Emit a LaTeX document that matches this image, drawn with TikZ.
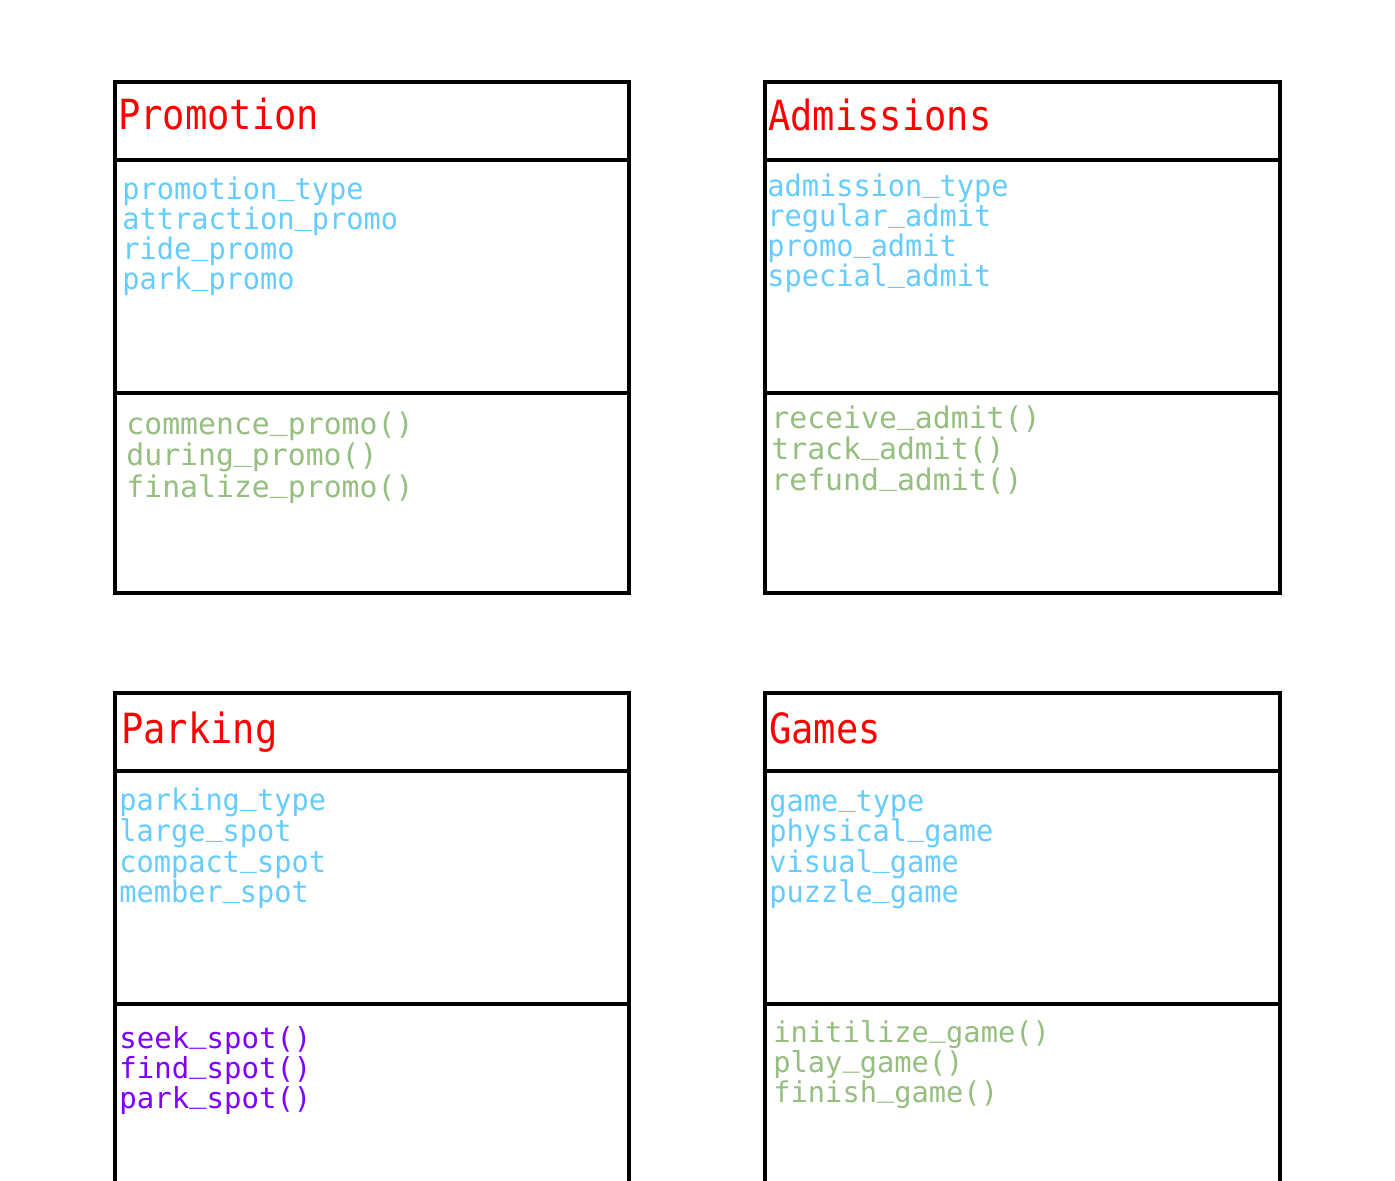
\documentclass[tikz,border=0pt]{standalone}
\usepackage{fontspec}
\newfontfamily\umlname[FakeStretch=0.89]{DejaVu Sans Mono}
\newfontfamily\umlattr[FakeStretch=0.96]{DejaVu Sans Mono}
\newfontfamily\umloper{DejaVu Sans Mono}
\usepackage{tikz}

\definecolor{titlered}{HTML}{FF0000}
\definecolor{attrblue}{HTML}{66CCFF}
\definecolor{opgreen}{HTML}{96BE80}
\definecolor{oppurple}{HTML}{7F00FF}

% underscore sitting on the baseline
\newcommand{\us}{\raisebox{0.19em}{\_}}

\tikzset{
  classline/.style={line width=1.7pt},
  classname/.style={anchor=base west, inner sep=0pt, text=titlered,
    font=\umlname\fontsize{20.8}{20.8}\selectfont},
  attr/.style={anchor=base west, inner sep=0pt, text=attrblue,
    font=\umlattr\fontsize{14.9}{14.9}\selectfont},
  oper/.style={anchor=base west, inner sep=0pt, text=opgreen,
    font=\umloper\fontsize{14.9}{14.9}\selectfont},
}

\begin{document}
\begin{tikzpicture}[x=0.5pt, y=-0.5pt]
    \useasboundingbox (0,0) rectangle (1395,1181);

    % Promotion
    \draw[classline] (115,82) rectangle (629,593);
    \draw[classline] (115,160) -- (629,160);
    \draw[classline] (115,393) -- (629,393);
    \node[classname] (promo-name) at (118,130) {Promotion};
    \node[attr] (promo-a1) at (122,200) {promotion\us type};
    \node[attr] (promo-a2) at (122,230) {attraction\us promo};
    \node[attr] (promo-a3) at (122,260) {ride\us promo};
    \node[attr] (promo-a4) at (122,290) {park\us promo};
    \node[oper] (promo-o1) at (126,435) {commence\us promo()};
    \node[oper] (promo-o2) at (126,466) {during\us promo()};
    \node[oper] (promo-o3) at (126,497) {finalize\us promo()};

    % Admissions
    \draw[classline] (765,82) rectangle (1280,593);
    \draw[classline] (765,160) -- (1280,160);
    \draw[classline] (765,393) -- (1280,393);
    \node[classname] (admit-name) at (768,131) {Admissions};
    \node[attr] (admit-a1) at (767,197) {admission\us type};
    \node[attr] (admit-a2) at (767,227) {regular\us admit};
    \node[attr] (admit-a3) at (767,257) {promo\us admit};
    \node[attr] (admit-a4) at (767,287) {special\us admit};
    \node[oper] (admit-o1) at (771,429) {receive\us admit()};
    \node[oper] (admit-o2) at (771,459.5) {track\us admit()};
    \node[oper] (admit-o3) at (771,490) {refund\us admit()};

    % Parking
    \draw[classline] (115,1181) -- (115,693) -- (629,693) -- (629,1181);
    \draw[classline] (115,771) -- (629,771);
    \draw[classline] (115,1004) -- (629,1004);
    \node[classname] (park-name) at (121,743) {Parking};
    \node[attr] (park-a1) at (119,810) {parking\us type};
    \node[attr] (park-a2) at (119,841) {large\us spot};
    \node[attr] (park-a3) at (119,872) {compact\us spot};
    \node[attr] (park-a4) at (119,902) {member\us spot};
    \node[oper, text=oppurple, font=\umloper\fontsize{14.5}{14.5}\selectfont] (park-o1) at (119,1048) {seek\us spot()};
    \node[oper, text=oppurple, font=\umloper\fontsize{14.5}{14.5}\selectfont] (park-o2) at (119,1078) {find\us spot()};
    \node[oper, text=oppurple, font=\umloper\fontsize{14.5}{14.5}\selectfont] (park-o3) at (119,1108) {park\us spot()};

    % Games
    \draw[classline] (765,1181) -- (765,693) -- (1280,693) -- (1280,1181);
    \draw[classline] (765,771) -- (1280,771);
    \draw[classline] (765,1004) -- (1280,1004);
    \node[classname] (game-name) at (769,743) {Games};
    \node[attr] (game-a1) at (769,811) {game\us type};
    \node[attr] (game-a2) at (769,841) {physical\us game};
    \node[attr] (game-a3) at (769,872) {visual\us game};
    \node[attr] (game-a4) at (769,902) {puzzle\us game};
    \node[oper, font=\umloper\fontsize{14.35}{14.35}\selectfont] (game-o1) at (773,1042) {initilize\us game()};
    \node[oper, font=\umloper\fontsize{14.35}{14.35}\selectfont] (game-o2) at (773,1072) {play\us game()};
    \node[oper, font=\umloper\fontsize{14.35}{14.35}\selectfont] (game-o3) at (773,1102) {finish\us game()};
\end{tikzpicture}
\end{document}
